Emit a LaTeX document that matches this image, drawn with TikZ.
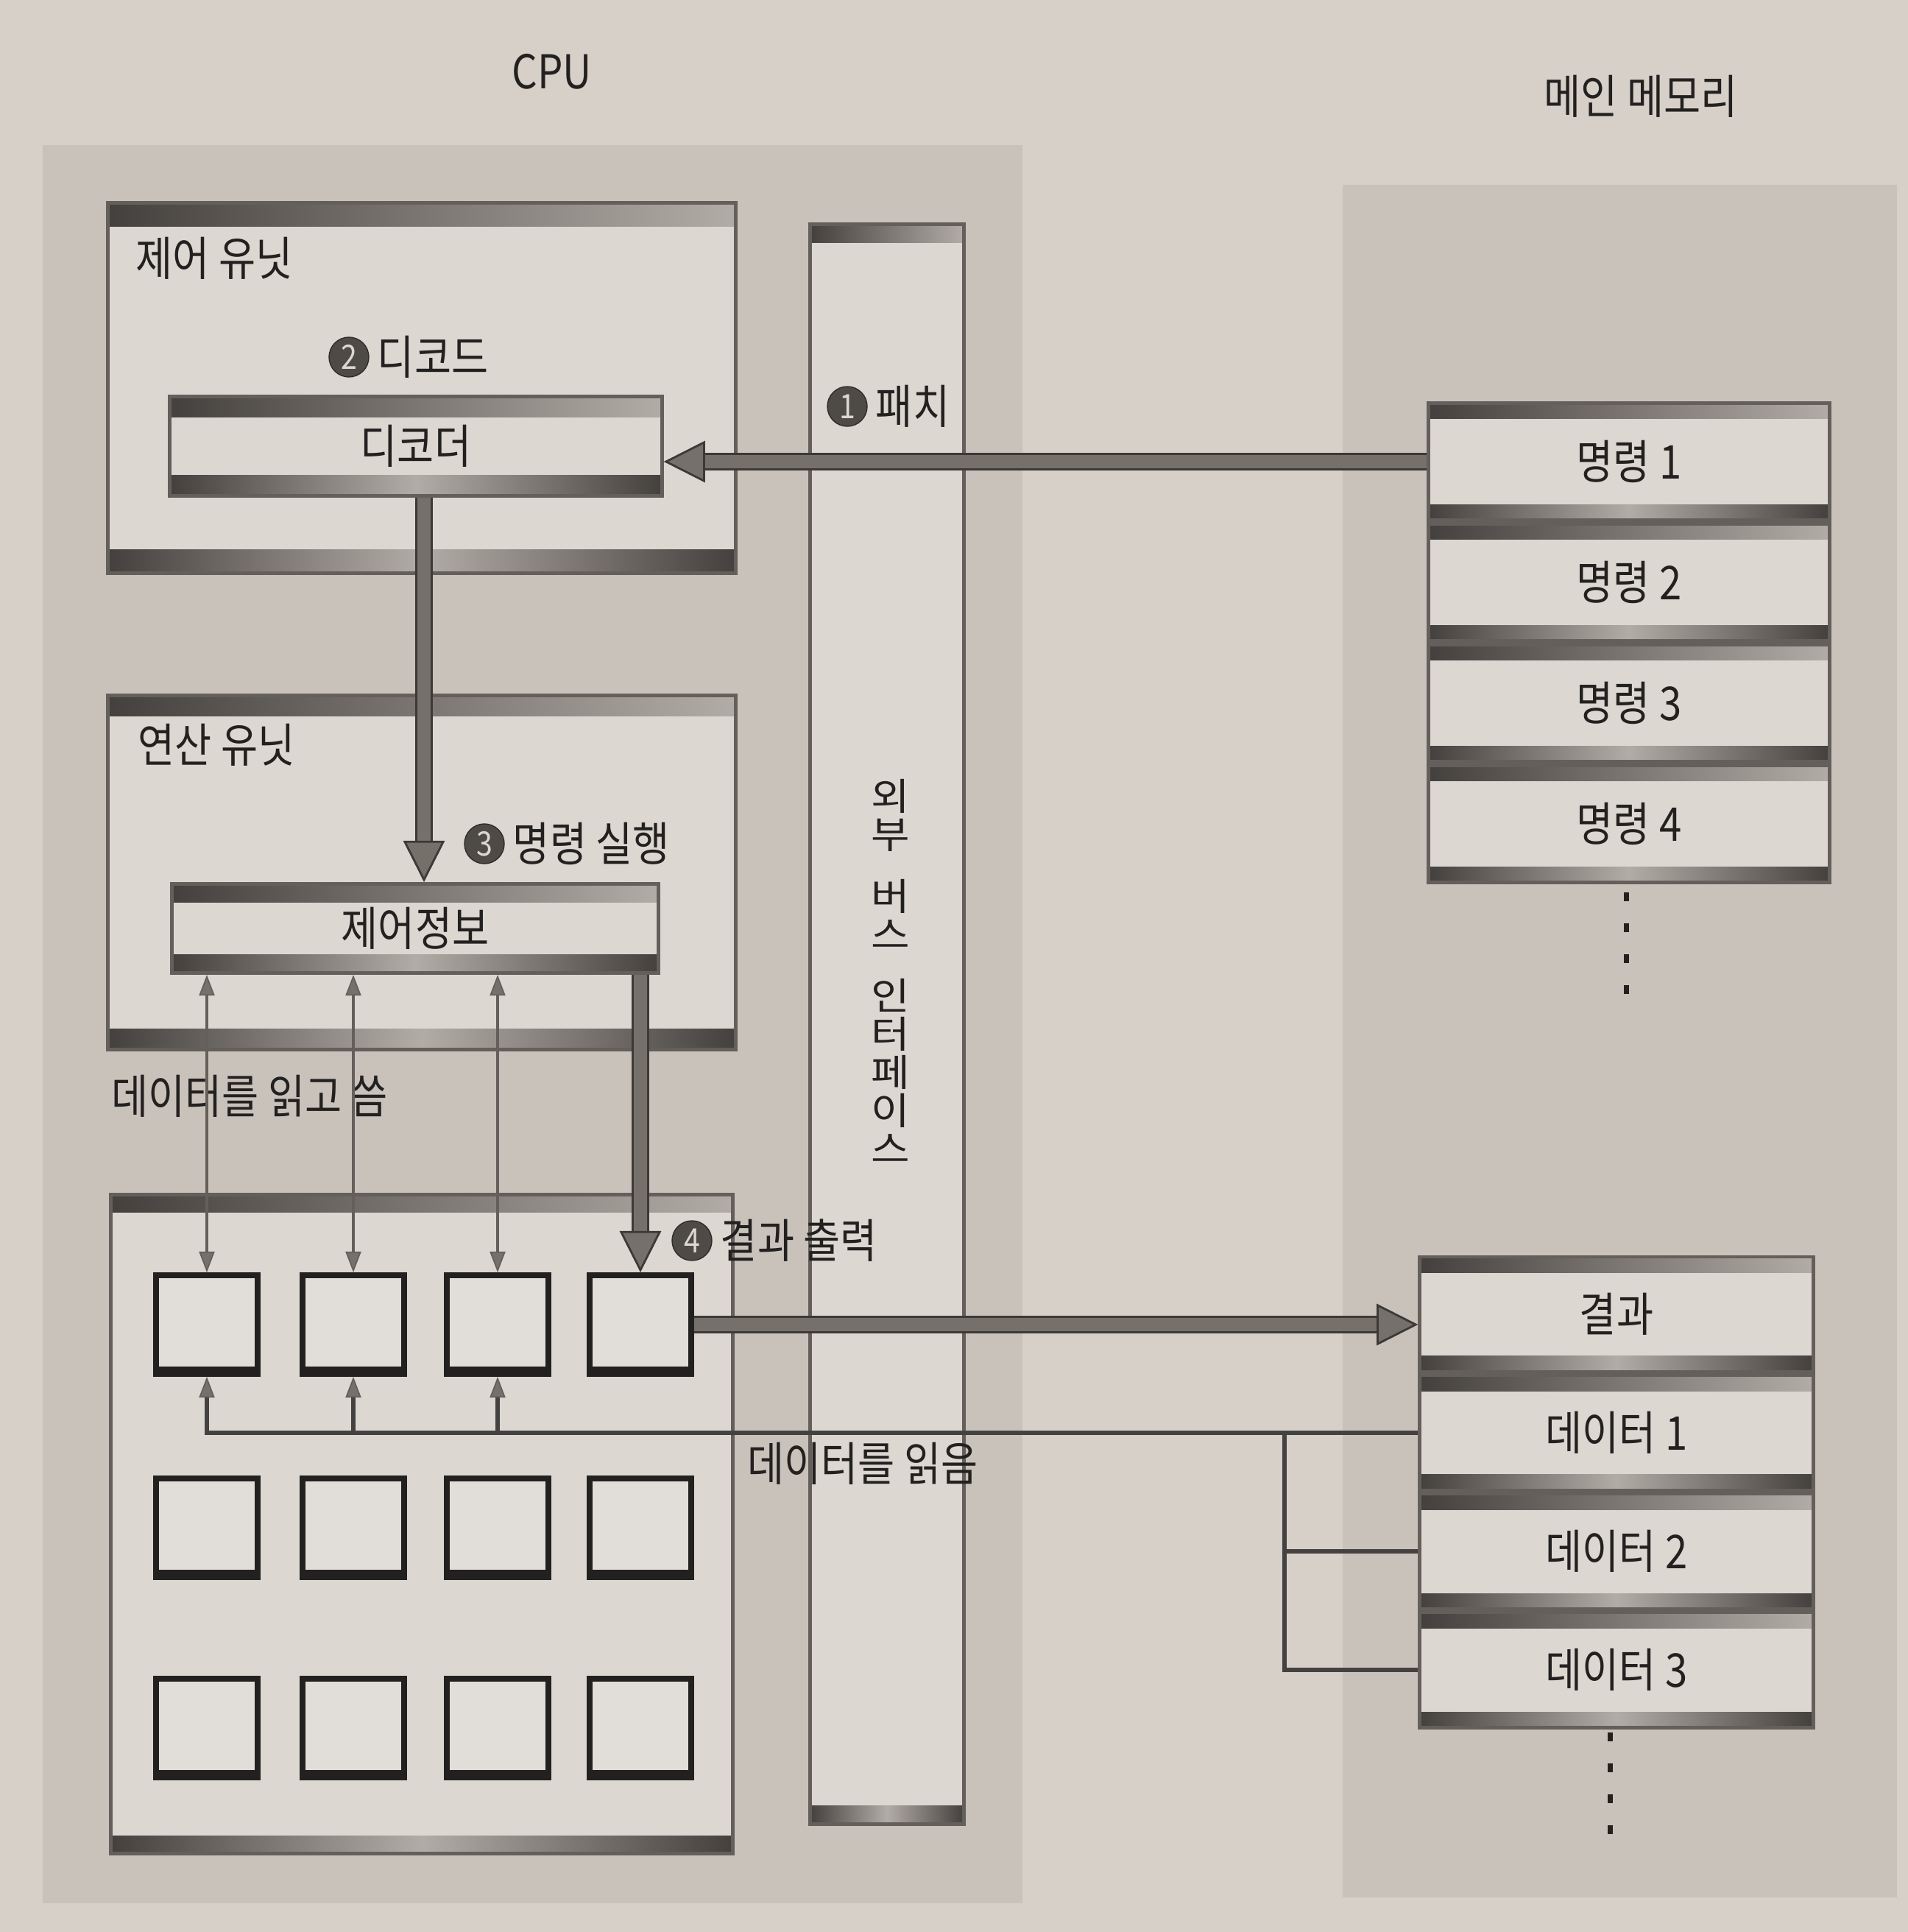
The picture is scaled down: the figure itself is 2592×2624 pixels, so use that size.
\documentclass[tikz,border=0pt]{standalone}
\usepackage{fontspec}
\setmainfont{Noto Sans CJK KR}[FakeStretch=0.86]
\newfontfamily\widekr{Noto Sans CJK KR}[FakeStretch=1.12]
\usetikzlibrary{positioning,arrows.meta}
\definecolor{paper}{RGB}{214,208,201}
\definecolor{panel}{RGB}{200,194,187}
\definecolor{boxfill}{RGB}{220,215,209}
\definecolor{cellfill}{RGB}{225,221,216}
\definecolor{bardark}{RGB}{68,64,61}
\definecolor{barlight}{RGB}{178,172,166}
\definecolor{edge}{RGB}{100,95,90}
\definecolor{arrowgray}{RGB}{118,112,107}
\definecolor{numgray}{RGB}{78,74,70}
\definecolor{ink}{RGB}{35,33,32}
\tikzset{
  bevel/.style={draw=edge, line width=1.4pt, fill=boxfill, inner sep=0pt,
    path picture={
      \shade[left color=bardark, right color=barlight]
        (path picture bounding box.north west) rectangle
        ([yshift=-#1]path picture bounding box.north east);
      \shade[left color=bardark, right color=bardark, middle color=barlight]
        (path picture bounding box.south west) rectangle
        ([yshift=#1]path picture bounding box.south east);
    }},
  bevel/.default=6pt,
  memcell/.style={bevel=6pt, minimum width=5.44cm, minimum height=1.59cm},
  datacell/.style={bevel=6pt, minimum width=5.34cm, minimum height=1.56cm},
  reg/.style={draw=ink, line width=2.2pt, fill=cellfill, inner sep=0pt,
    minimum width=1.38cm, minimum height=1.34cm,
    path picture={\fill[ink] (path picture bounding box.south west) rectangle
      ([yshift=3pt]path picture bounding box.south east);}},
  stepnum/.style={circle, fill=numgray, draw=numgray!60!black, inner sep=0pt,
    minimum size=0.54cm, text=boxfill, font=\fontsize{13}{13}\selectfont},
  fatarrow/.style={line width=5pt, draw=arrowgray,
    -{Triangle[length=16pt,width=16pt,fill=arrowgray,color=edge!60!black,line width=0.8pt]},
    preaction={draw=edge!60!black, line width=7pt, arrows=-, shorten >=9pt}},
  biarrow/.style={draw=edge, line width=1.2pt,
    {Triangle[length=8pt,width=6pt,fill=arrowgray,color=edge,line width=0.5pt]}-{Triangle[length=8pt,width=6pt,fill=arrowgray,color=edge,line width=0.5pt]}},
  readline/.style={draw=ink!85, line width=1.8pt},
  readtip/.style={-{Triangle[length=8pt,width=6pt,fill=arrowgray,color=edge,line width=0.5pt]}},
}
\begin{document}
\begin{tikzpicture}[x=0.01cm, y=-0.01cm, every node/.style={font=\fontsize{18}{21}\selectfont, text=ink}]
  \useasboundingbox (0,0) rectangle (2592,2624);
  \fill[paper] (0,0) rectangle (2592,2624);
  % panels
  \fill[panel] (58,197) rectangle (1389,2585);
  \fill[panel] (1824,251) rectangle (2577,2577);
  \node (cpu) at (750,97) {CPU};
  \node (memlbl) at (2229,131) {메인 메모리};

  % cpu side
  \node[bevel=9pt, minimum width=8.52cm, minimum height=5.02cm] (ctrlunit) at (573,527) {};
  \node[anchor=west, inner sep=0pt] (ctrllbl) at (184,351) {제어 유닛};
  \node[bevel=8pt, minimum width=6.68cm, minimum height=1.35cm] (decoder) at (565,606) {디코더};
  \node[bevel=8pt, minimum width=8.52cm, minimum height=4.81cm] (aluunit) at (573,1185) {};
  \node[anchor=west, inner sep=0pt] (alulbl) at (187,1012) {연산 유닛};
  \node[bevel=7pt, minimum width=6.61cm, minimum height=1.21cm] (ctrlinfo) at (564,1261) {제어정보};
  \node[bevel=7pt, minimum width=8.45cm, minimum height=8.95cm] (regarea) at (573,2070) {};
  \foreach \c/\x in {1/281,2/480,3/676,4/870}
    \foreach \r/\y in {1/1799,2/2075,3/2347}
      \node[reg] (r\r\c) at (\x,\y) {};

  \node[bevel=7pt, minimum width=2.09cm, minimum height=21.71cm] (bus) at (1205,1391) {};
  \node[align=center, inner sep=0pt, font=\widekr\fontsize{14.5}{14.8}\selectfont] (buslbl) at (1210,1319)
    {외\\부\\[9pt]버\\스\\[9pt]인\\터\\페\\이\\스};

  % memory side
  \node[memcell] (cmd1) at (2213,627) {명령 1};
  \node[memcell, below=0pt of cmd1] (cmd2) {명령 2};
  \node[memcell, below=0pt of cmd2] (cmd3) {명령 3};
  \node[memcell, below=0pt of cmd3] (cmd4) {명령 4};
  \foreach \y in {1218,1260,1302,1344}
    \fill[ink] (2206,\y-6) rectangle (2213,\y+6);
  \node[datacell] (result) at (2196,1785) {결과};
  \node[datacell, below=0pt of result] (data1) {데이터 1};
  \node[datacell, below=0pt of data1] (data2) {데이터 2};
  \node[datacell, below=0pt of data2] (data3) {데이터 3};
  \foreach \y in {2359,2401,2443,2485}
    \fill[ink] (2184,\y-6) rectangle (2191,\y+6);

  % steps
  \node[stepnum] (n1) at (1151,552) {1};
  \node[right=2pt of n1, inner sep=1pt] (fetchlbl) {패치};
  \node[stepnum] (n2) at (474,485) {2};
  \node[right=2pt of n2, inner sep=1pt] (decodelbl) {디코드};
  \node[stepnum] (n3) at (658,1146) {3};
  \node[right=2pt of n3, inner sep=1pt] (execlbl) {명령 실행};
  \node[stepnum] (n4) at (940,1685) {4};
  \node[right=2pt of n4, inner sep=1pt] (outlbl) {결과 출력};
  \node[anchor=west, inner sep=0pt] (rwlbl) at (151,1489) {데이터를 읽고 씀};
  \node (rdlbl) at (1172,1988) {데이터를 읽음};

  % connectors
  \draw[fatarrow] (cmd1.west) -- (cmd1.west -| decoder.east);
  \draw[fatarrow] ([xshift=0.11cm]decoder.south) -- ([xshift=0.11cm]decoder.south |- ctrlinfo.north);
  \foreach \c in {1,2,3}
    \draw[biarrow] (ctrlinfo.south -| r1\c.north) -- (r1\c.north);
  \draw[fatarrow] (ctrlinfo.south -| r14.north) -- (r14.north);
  \draw[fatarrow] (r14.east) -- (r14.east -| result.west);
  \coordinate (rdjoin) at (1745,1941);
  \draw[readline, readtip] (data1.west) -| (r11.south);
  \foreach \c in {2,3}
    \draw[readline, readtip] (data1.west -| r1\c.south) -- (r1\c.south);
  \draw[readline] (data1.west -| rdjoin) |- (data3.west);
  \draw[readline] (data2.west -| rdjoin) -- (data2.west);
\end{tikzpicture}
\end{document}
